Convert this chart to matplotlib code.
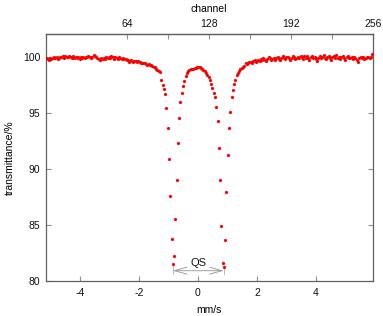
import numpy as np
import matplotlib
matplotlib.use("Agg")
import matplotlib.pyplot as plt

plt.rcParams['font.family'] = ['Liberation Sans', 'DejaVu Sans']

# ---- data: transmittance (%) per channel ----
left_wing = [
    99.88, 99.82, 99.73, 99.88, 99.79, 99.91, 99.94, 99.85, 99.97, 99.79,
    99.91, 100.00, 99.94, 100.03, 99.88, 100.09, 100.00, 99.94, 100.09, 99.97,
    99.88, 100.03, 99.91, 100.00, 99.85, 99.94, 99.82, 99.97, 99.91, 100.00,
    99.88, 99.94, 99.97, 100.06, 99.94, 99.88, 100.00, 100.15, 100.09, 99.97,
    99.91, 99.79, 99.73, 99.88, 99.76, 99.91, 99.82, 99.94, 99.85, 100.00,
    99.91, 100.06, 99.94, 99.82, 99.97, 99.88, 99.82, 99.94, 99.88, 99.79,
    99.85, 99.76, 99.82, 99.73, 99.67, 99.55, 99.73, 99.61, 99.52, 99.64,
    99.58, 99.52, 99.58, 99.50, 99.44, 99.46, 99.41, 99.44, 99.35, 99.29,
    99.32, 99.23, 99.26, 99.17, 99.08, 99.10, 98.95, 98.85, 98.70, 98.65,
]
doublet = [
    97.90, 97.50, 97.15, 96.65, 95.40, 93.64, 90.88, 87.58, 83.78, 81.50,
    82.24, 85.50, 89.03, 92.33, 94.53, 96.00, 96.75, 97.40, 97.85, 98.30,
    98.55, 98.70, 98.80, 98.90, 98.90, 98.95, 99.00, 99.00, 99.05, 99.10,
    99.05, 99.00, 98.95, 98.80, 98.70, 98.55, 98.40, 98.20, 97.90, 97.60,
    97.20, 96.75, 96.40, 95.55, 94.30, 91.85, 89.03, 84.88, 81.63, 81.25,
    83.63, 87.91, 91.23, 93.61, 95.10, 96.40, 97.00, 97.60, 97.90, 98.40,
    98.55, 98.70, 98.90, 99.00, 99.10, 99.20, 99.45, 99.35, 99.45,
]
right_wing = [
    99.50, 99.55, 99.45, 99.60, 99.70, 99.55, 99.65, 99.75, 99.60, 99.80,
    99.70, 99.90, 99.75, 99.65, 99.80, 99.95, 99.85, 99.70, 99.80, 99.90,
    99.75, 99.85, 99.95, 99.80, 99.70, 99.85, 100.05, 99.90, 99.80, 99.95,
    100.00, 99.85, 99.75, 99.90, 100.05, 99.95, 99.80, 99.90, 100.00, 99.85,
    100.10, 99.95, 99.80, 100.05, 99.90, 100.10, 99.85, 99.75, 99.95, 100.10,
    99.90, 100.00, 99.80, 99.65, 99.90, 100.05, 99.85, 100.00, 100.15, 99.90,
    99.80, 99.95, 100.10, 99.85, 99.75, 99.95, 100.05, 99.90, 100.15, 99.85,
    99.95, 99.80, 99.95, 100.05, 99.90, 99.75, 100.00, 100.10, 99.90, 99.85,
    100.00, 99.80, 99.95, 99.85, 99.70, 99.55, 99.90, 100.00, 99.85, 99.95,
    99.80, 99.90, 100.00, 99.95, 99.90, 99.95, 100.20,
]
transmittance = np.array(left_wing + doublet + right_wing)
n_channels = 256
channel = np.arange(len(transmittance)) + 0.5

# velocity calibration (mm/s per channel)
V0 = -5.171
DV = 0.04337
velocity = V0 + DV * channel

x_ticks = [-4, -2, 0, 2, 4]
y_ticks = [80, 85, 90, 95, 100]
ch_ticks = [64, 96, 128, 160, 192, 224, 256]
ch_labels = ['64', '', '128', '', '192', '', '256']
qs_left, qs_right, qs_y = -0.86, 0.88, 80.92

# ---- figure ----
fig = plt.figure(figsize=(3.83, 3.16), dpi=100)
ax = fig.add_axes([45.7/383, 1-281/316, 327/383, (281-34.3)/316])

ax.plot(velocity, transmittance, 'o', color='#ff0000', ms=2.3, mew=0, zorder=3)

ax.set_xlim(V0, V0 + DV * n_channels)
ax.set_ylim(80, 102)
ax.set_xticks(x_ticks)
ax.set_yticks(y_ticks)
ax.set_xticklabels([str(t) for t in x_ticks])

frame = '#606060'
tickc = '#909090'
for s in ax.spines.values():
    s.set_color(frame)
    s.set_linewidth(0.9)
ax.tick_params(axis='both', direction='in', length=3.5, width=0.8, color=tickc,
               labelsize=7.5, labelcolor='#111111')
ax.tick_params(axis='y', right=True, pad=4)
ax.tick_params(axis='x', pad=5)

ax.set_xlabel('mm/s', fontsize=7.5, labelpad=5)
ax.set_ylabel('transmittance/%', fontsize=7.5, labelpad=6)

top = ax.secondary_xaxis('top', functions=(lambda v: (v - V0) / DV,
                                            lambda c: V0 + DV * c))
top.set_xticks(ch_ticks)
top.set_xticklabels(ch_labels)
top.tick_params(direction='in', length=3.5, width=0.8, color=tickc,
                labelsize=7.5, labelcolor='#111111', pad=4)
top.spines['top'].set_color(frame)
top.spines['top'].set_linewidth(0.9)
top.set_xlabel('channel', fontsize=7.5, labelpad=5)

# QS annotation
ax.annotate('', xy=(qs_left, qs_y), xytext=(qs_right, qs_y),
            arrowprops=dict(arrowstyle='<->,head_length=0.9,head_width=0.25',
                            color='#a0a0a0', lw=0.7, shrinkA=0, shrinkB=0))
ax.plot([qs_left, qs_left], [80.6, 81.35], color='#b0b0b0', lw=0.6)
ax.plot([qs_right, qs_right], [80.6, 81.35], color='#b0b0b0', lw=0.6)
ax.text((qs_left + qs_right) / 2, 81.6, 'QS', ha='center', va='center',
        fontsize=8, color='#111111')

fig.savefig('out.png', dpi=100)
